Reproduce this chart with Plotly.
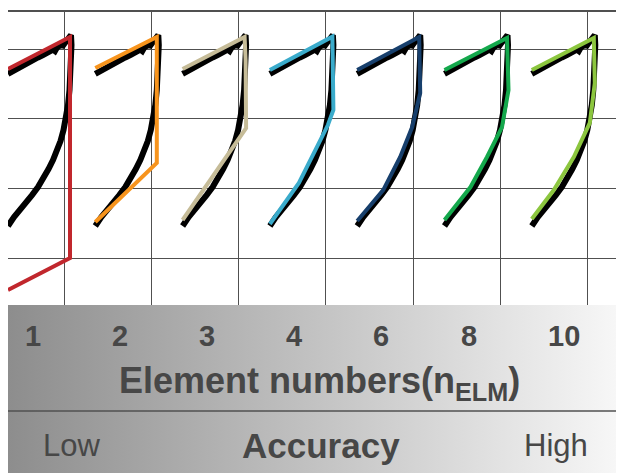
import plotly.graph_objects as go

# ---------------- data ----------------
N_ELM = [1, 2, 3, 4, 6, 8, 10]
COLORS = ["#C1272D", "#F7941D", "#C6BC98", "#3AABCB", "#173F6C", "#14A84C", "#8CC63F"]

# experimental hysteresis branch (displacement, force) - identical in every panel
EXP_D = [0.0, 0.5, 1.0, 1.5, 2.0, 2.5, 3.0, 3.5, 4.0, 4.3, 4.5, 4.7, 4.9, 5.3, 5.5, 5.8, 6.0, 6.2, 6.3,
         6.35, 6.32, 6.25, 6.15, 6.0, 5.8, 5.55, 5.25, 4.9, 4.5, 4.05, 3.55, 3.0, 2.4, 1.8, 1.2, 0.6, 0.0]
EXP_F = [18.5, 18.8, 19.05, 19.3, 19.6, 19.9, 20.15, 20.4, 20.7, 20.8, 20.95, 20.8, 21.15, 21.4, 21.35, 21.75, 22.0, 22.3, 22.4,
         21.4, 19.9, 18.39, 16.88, 15.37, 14.07, 12.86, 11.76, 10.75, 9.85, 8.94, 8.04, 7.13, 6.33, 5.63, 4.92, 4.12, 3.22]

# model branches for each element number
M1_D = [0.0, 6.2, 6.2, 0.0]
M1_F = [18.99, 22.21, 0.0, -3.22]
M2_D = [0.0, 6.15, 6.15, 0.0]
M2_F = [19.09, 22.21, 9.55, 3.62]
M3_D = [0.0, 6.2, 6.3, 6.35, 0.0]
M3_F = [18.99, 22.21, 19.9, 13.06, 3.82]
M4_D = [0.0, 6.25, 6.35, 5.8, 2.9, 0.0]
M4_F = [18.89, 22.24, 14.87, 13.36, 7.54, 3.42]
M6_D = [0.0, 6.2, 6.3, 5.5, 4.3, 2.6, 0.0]
M6_F = [18.89, 22.21, 16.58, 13.16, 10.15, 6.83, 3.72]
M8_D = [0.0, 6.25, 6.4, 5.75, 4.25, 2.6, 0.0]
M8_F = [18.89, 22.11, 16.88, 13.16, 10.15, 7.13, 3.82]
M10_D = [0.0, 6.2, 6.3, 5.8, 4.2, 2.2, 0.0]
M10_F = [18.89, 22.11, 17.58, 13.57, 10.15, 6.83, 3.92]

MODELS_D = [M1_D, M2_D, M3_D, M4_D, M6_D, M8_D, M10_D]
MODELS_F = [M1_F, M2_F, M3_F, M4_F, M6_F, M8_F, M10_F]

LABEL_X = [0.0398, 0.1815, 0.323, 0.464, 0.606, 0.748, 0.903]

# ---------------- figure ----------------
PITCH = 8.73
FONT = "Liberation Sans, Arial, sans-serif"
TXT = "#474747"

fig = go.Figure()

for k, n in enumerate(N_ELM):
    off = k * PITCH
    fig.add_trace(go.Scatter(x=[d + off for d in EXP_D], y=EXP_F, mode="lines",
                             line=dict(color="black", width=6), hoverinfo="skip",
                             showlegend=False, xaxis="x", yaxis="y"))
for k, n in enumerate(N_ELM):
    off = k * PITCH
    fig.add_trace(go.Scatter(x=[d + off for d in MODELS_D[k]], y=MODELS_F[k], mode="lines",
                             line=dict(color=COLORS[k], width=4), name=f"n={n}",
                             showlegend=False, xaxis="x", yaxis="y"))

# gradient bands
SEP = 0.369
for y0, y1 in [(SEP, 1.0), (0.0, SEP)]:
    fig.add_trace(go.Scatter(x=[0, 1, 1, 0, 0], y=[y0, y0, y1, y1, y0], mode="lines",
                             fill="toself", line=dict(width=0, color="rgba(0,0,0,0)"),
                             fillgradient=dict(type="horizontal",
                                               colorscale=[[0, "#8d8d8d"], [1, "#f8f8f8"]]),
                             hoverinfo="skip", showlegend=False, xaxis="x2", yaxis="y2"))

fig.add_shape(type="line", xref="x2", yref="y2", x0=0, x1=1, y0=SEP, y1=SEP,
              line=dict(color="#505050", width=1.5))

ann = []
for k, n in enumerate(N_ELM):
    ann.append(dict(x=LABEL_X[k], y=0.818, xref="x2", yref="y2", text=f"<b>{n}</b>",
                    showarrow=False, font=dict(family=FONT, size=29, color=TXT)))
ann.append(dict(x=0.506, y=0.536, xref="x2", yref="y2",
                text="<b>Element numbers(n<sub>ELM</sub>)</b>",
                showarrow=False, font=dict(family=FONT, size=36, color=TXT)))
ann.append(dict(x=0.103, y=0.161, xref="x2", yref="y2", text="Low",
                showarrow=False, font=dict(family=FONT, size=31, color=TXT)))
ann.append(dict(x=0.508, y=0.161, xref="x2", yref="y2", text="<b>Accuracy</b>",
                showarrow=False, font=dict(family=FONT, size=35, color=TXT)))
ann.append(dict(x=0.890, y=0.161, xref="x2", yref="y2", text="High",
                showarrow=False, font=dict(family=FONT, size=31, color=TXT)))

# the page body adds an 8px offset; size the figure so it fills the window exactly
BAND = 168 / 461
fig.update_layout(
    width=616, height=465,
    margin=dict(l=0, r=0, t=4, b=0),
    paper_bgcolor="white", plot_bgcolor="white",
    xaxis=dict(range=[0, 61.6], tick0=5.6, dtick=PITCH, showgrid=True, gridcolor="#505050",
               gridwidth=1, zeroline=False, showticklabels=False, ticks="",
               showline=True, side="top", linecolor="#505050", linewidth=1.5,
               anchor="y", fixedrange=True),
    yaxis=dict(range=[-4.72, 24.72], tick0=0, dtick=7, showgrid=True, gridcolor="#505050",
               gridwidth=1, zeroline=False, showticklabels=False, ticks="",
               showline=True, linecolor="#505050", linewidth=2,
               domain=[BAND, 1], anchor="x", fixedrange=True),
    xaxis2=dict(range=[0, 1], showgrid=False, zeroline=False, showticklabels=False,
                ticks="", anchor="y2", fixedrange=True),
    yaxis2=dict(range=[0, 1], showgrid=False, zeroline=False, showticklabels=False,
                ticks="", showline=True, linecolor="#404040", linewidth=2,
                domain=[0, BAND], anchor="x2", fixedrange=True),
    annotations=ann,
)

fig.write_html("out.html")
